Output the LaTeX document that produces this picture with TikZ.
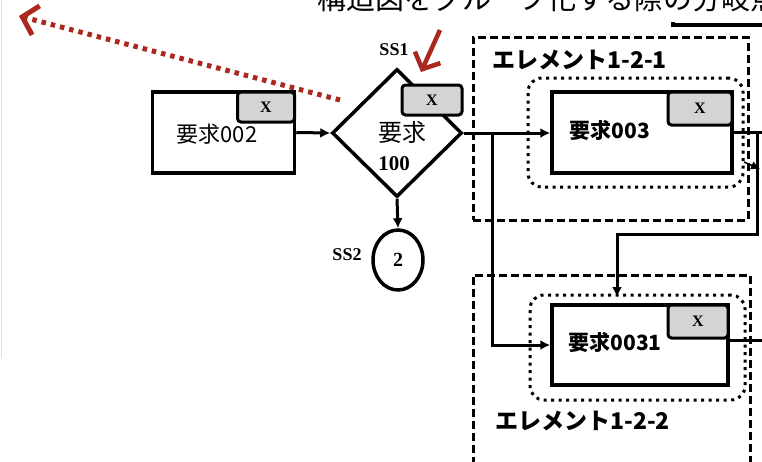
\documentclass[tikz,border=0pt]{standalone}
\usepackage{fontspec}
\setmainfont{Liberation Serif}
\newfontfamily\jp{Noto Sans CJK JP}
\usetikzlibrary{shapes.geometric,arrows.meta}
\definecolor{redarr}{RGB}{170,40,30}
\definecolor{tabgray}{RGB}{212,212,212}
\tikzset{
  box/.style={draw, line width=3.5pt, fill=white, inner sep=0pt},
  xtab/.style={draw, line width=3pt, fill=tabgray, rounded corners=3.5pt, inner sep=0pt,
    font=\bfseries\fontsize{16}{16}\selectfont},
  req/.style={font=\jp\bfseries\fontsize{21}{21}\selectfont, inner sep=0pt},
  elabel/.style={font=\jp\bfseries\fontsize{23}{23}\selectfont, inner sep=0pt, anchor=west},
  sslabel/.style={font=\bfseries\fontsize{18}{18}\selectfont, inner sep=0pt},
  flow/.style={line width=3pt, -{Latex[length=10pt,width=10pt]}},
  plain/.style={line width=3pt},
  dashbox/.style={draw, line width=3pt, dash pattern=on 8pt off 4pt},
  dotbox/.style={draw, line width=3pt, dash pattern=on 3pt off 4.5pt, rounded corners=14pt},
  reddot/.style={draw=redarr, line width=5pt, dash pattern=on 4.5pt off 5pt,
    -{Straight Barb[length=14pt,width=30pt,line width=5pt]}},
  redsolid/.style={draw=redarr, line width=4.5pt,
    -{Straight Barb[length=13pt,width=28pt,line width=4.5pt]}}
}
\begin{document}
\begin{tikzpicture}[x=1pt,y=-1pt]
\useasboundingbox (0,0) rectangle (762,461);
\clip (0,0) rectangle (762,461);
\fill[white] (0,0) rectangle (762,461);

% faint left border
\draw[gray!25, line width=1pt] (1.5,0) -- (1.5,358);

% top caption (cut off at the top and right edges, as in the reference)
\node[anchor=base west, inner sep=0pt, font=\jp\fontsize{29}{29}\selectfont] (cap) at (317,9) {構造図をグループ化する際の分岐点};
\coordinate (tl1) at (673,25);
\coordinate (tl2) at (762,25);
\draw[line width=3.5pt] ([yshift=3pt]tl1) -- (tl1) -- (tl2);

% element 1-2-1
\node[dashbox, minimum width=275pt, minimum height=183pt, inner sep=0pt] (e121) at (610.5,128.5) {};
\node[elabel] (e121l) at (492,60) {エレメント1-2-1};
\node[dotbox, minimum width=215pt, minimum height=109pt, inner sep=0pt] (g003) at (635.5,132.5) {};

% element 1-2-2
\node[dashbox, minimum width=277pt, minimum height=200pt, inner sep=0pt] (e122) at (611.5,375) {};
\node[elabel] (e122l) at (495,421) {エレメント1-2-2};
\node[dotbox, minimum width=215pt, minimum height=105pt, inner sep=0pt] (g0031) at (637.5,347.5) {};

% requirement 002
\node[box, minimum width=142pt, minimum height=81pt] (r002) at (223.5,132.5) {};
\node[xtab, minimum width=57pt, minimum height=30pt] (t002) at (266,107) {X};
\node[req, font=\jp\fontsize{22}{22}\selectfont] (l002) at (217,134) {要求002};

% diamond 100
\node[draw, diamond, line width=3.5pt, fill=white, minimum width=130pt, minimum height=128pt, inner sep=0pt] (d100) at (397,133) {};
\node[xtab, minimum width=60pt, minimum height=30pt] (t100) at (432,100) {X};
\node[req, font=\jp\fontsize{24}{24}\selectfont] (l100a) at (402,132) {要求};
\node[sslabel, font=\bfseries\fontsize{21}{21}\selectfont] (l100b) at (394,164) {100};
\node[sslabel] (ss1) at (394,50) {SS1};

% SS2 circle
\node[draw, ellipse, line width=3.5pt, minimum width=50pt, minimum height=60pt, inner sep=0pt,
  font=\bfseries\fontsize{20}{20}\selectfont] (c2) at (398,260) {2};
\node[sslabel] (ss2) at (347,255) {SS2};

% requirement 003
\node[box, minimum width=180pt, minimum height=81pt] (r003) at (642,132.5) {};
\node[xtab, minimum width=64pt, minimum height=33pt] (t003) at (700,108.5) {X};
\node[req] (l003) at (610,130) {要求003};

% requirement 0031
\node[box, minimum width=176pt, minimum height=80pt] (r0031) at (640,345) {};
\node[xtab, minimum width=60pt, minimum height=33pt] (t0031) at (698,321.5) {X};
\node[req] (l0031) at (615,342) {要求0031};

% connectors
\draw[flow] (r002.east) -- (d100.west);
\draw[flow] (d100.east) -- (r003.west |- d100.east);
\coordinate (j) at (492,133);
\draw[flow] (j) |- (r0031.west);
\draw[flow] (d100.south) -- (c2.north);
\coordinate (o1) at (762,132.5);
\draw[plain] (r003.east) -- (o1);
\coordinate (v1) at (757,132.5);
\coordinate (v2) at (757,234);
\coordinate (a1) at (617,297);
\draw[flow] (v1) -- (v2) -| (a1);
\coordinate (s1) at (744,162);
\coordinate (s2) at (760,169);
\draw[line width=1.5pt, -{Latex[length=9pt,width=9pt]}] (s1) -- (s2);
\coordinate (o2) at (762,340);
\draw[plain] (r0031.east |- o2) -- (o2);

% red annotation arrows
\coordinate (rd1) at (340,100);
\coordinate (rd2) at (19,16);
\draw[reddot] (rd1) -- (rd2);
\coordinate (rs1) at (440,30);
\coordinate (rs2) at (421,72);
\draw[redsolid] (rs1) -- (rs2);
\end{tikzpicture}
\end{document}
